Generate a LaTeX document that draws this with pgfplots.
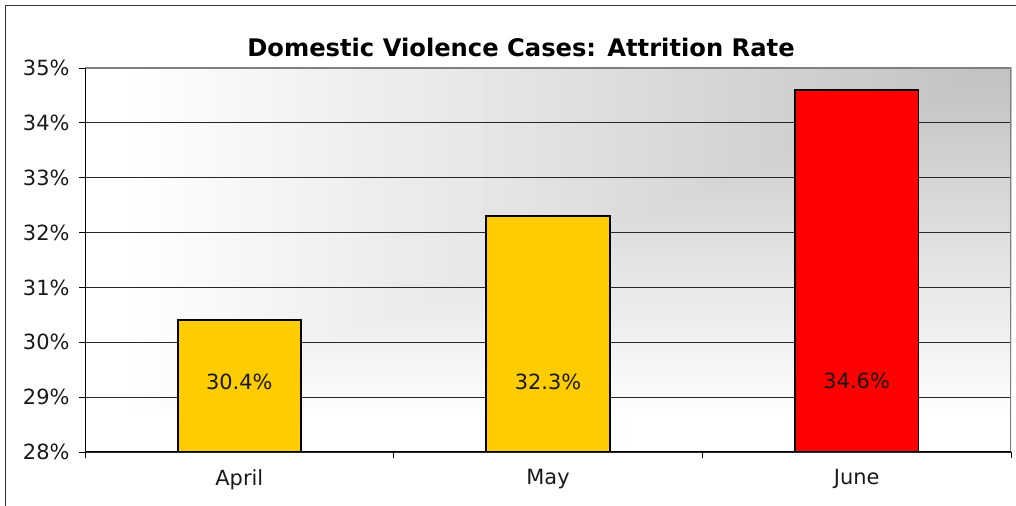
\documentclass[border=0pt]{standalone}
\usepackage{fontspec}
\setmainfont{DejaVu Sans}
\usepackage{pgfplots}
\pgfplotsset{compat=1.18}
\definecolor{baryellow}{RGB}{255,204,0}
\definecolor{barred}{RGB}{255,0,0}
\begin{document}
\begin{tikzpicture}[x=1bp,y=1bp]
\useasboundingbox (0,0) rectangle (1016,506);
\draw[line width=1.5bp, black!80] (5.5,0) -- (5.5,500.5) -- (1016,500.5);
\begin{scope}
\clip (85,54) rectangle (1011,438);
\fill[white] (85,54) rectangle (1011,438);
\foreach \i in {1,...,63} {
  \pgfmathsetmacro{\s}{1-\i/64}
  \pgfmathsetmacro{\k}{24.5*\i/64}
  \fill[black!\k] ({1011-\s*890},{438-\s*355}) rectangle (1012,439);
}
\end{scope}
\node[font=\bfseries\fontsize{24.3}{28}\selectfont] at (521,459) {Domestic Violence Cases: Attrition Rate};
\begin{axis}[
  at={(85bp,54bp)}, anchor=south west,
  width=926bp, height=384bp, scale only axis,
  xmin=-0.5, xmax=2.5, ymin=28, ymax=35,
  ybar, bar width=0.4, bar shift=0pt,
  xtick={0,1,2}, xticklabels={April,May,June},
  major x tick style={draw=none},
  minor xtick={-0.5,0.5,1.5,2.5},
  minor x tick style={black, line width=0.8bp},
  ytick={28,29,30,31,32,33,34,35},
  yticklabels={28\%,29\%,30\%,31\%,32\%,33\%,34\%,35\%},
  ymajorgrids, major grid style={black!85, line width=0.9bp},
  major y tick style={black, line width=0.8bp},
  tick align=outside, major tick length=6bp, minor tick length=6bp,
  tick pos=left,
  axis line style={draw=none},
  tick label style={font=\fontsize{21}{25}\selectfont, text=black!90},
  xticklabel style={yshift=-8bp},
  yticklabel style={xshift=-6bp},
  clip=true,
]
\addplot[fill=baryellow, draw=black, line width=1.8bp] coordinates {(0,30.4) (1,32.3)};
\addplot[fill=barred, draw=black, line width=1.8bp] coordinates {(2,34.6)};
\node[font=\fontsize{21}{25}\selectfont, text=black!90] at (axis cs:0,29.27) {30.4\%};
\node[font=\fontsize{21}{25}\selectfont, text=black!90] at (axis cs:1,29.27) {32.3\%};
\node[font=\fontsize{21}{25}\selectfont, text=black!90] at (axis cs:2,29.3) {34.6\%};
\draw[gray, line width=1.5bp] (rel axis cs:0,1) -- (rel axis cs:1,1) -- (rel axis cs:1,0);
\draw[black, line width=1.2bp] (rel axis cs:0,1) -- (rel axis cs:0,0) -- (rel axis cs:1,0);
\end{axis}
\end{tikzpicture}
\end{document}
